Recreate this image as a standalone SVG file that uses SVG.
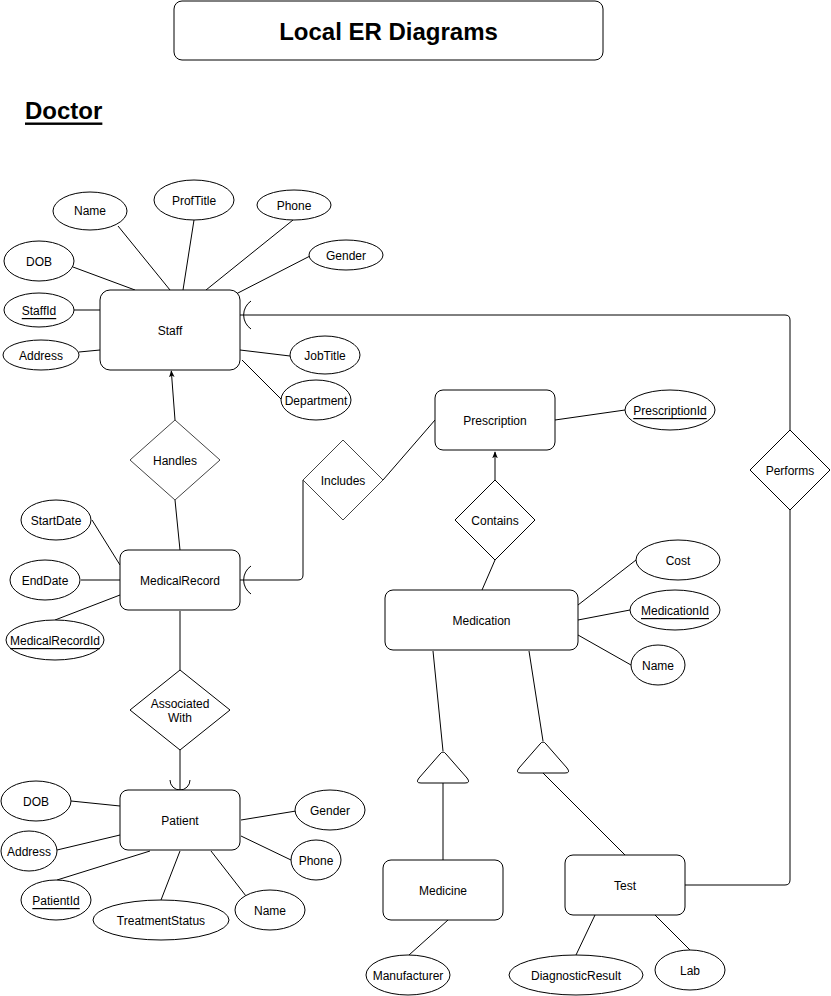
<svg xmlns="http://www.w3.org/2000/svg" width="831" height="996" viewBox="0 0 831 996">
<defs>
<style>
text{font-family:"Liberation Sans",Arial,sans-serif;font-size:12px;fill:#000;text-anchor:middle;dominant-baseline:central;transform:translateY(1px)}
.ent{fill:#fff;stroke:#000;stroke-width:1}
.attr{fill:#fff;stroke:#000;stroke-width:1}
.rel{fill:#fff;stroke:#000;stroke-width:1}
.rel2{fill:#fff;stroke:#444;stroke-width:1}
.ln{fill:none;stroke:#000;stroke-width:1}
.key{text-decoration:underline}
</style>
<marker id="arr" viewBox="0 0 10 10" refX="9" refY="5" markerWidth="7" markerHeight="7" orient="auto">
<path d="M0,1 L10,5 L0,9 L2.5,5 z" fill="#000"/>
</marker>
</defs>
<rect width="831" height="996" fill="#fff"/>

<g id="title">
<rect x="174" y="1" width="429" height="59" rx="8" class="ent"/>
<text x="388.5" y="30" style="font-size:24px;font-weight:bold">Local ER Diagrams</text>
</g>
<g id="doctor-heading">
<text x="25" y="109" style="font-size:24px;font-weight:bold;text-anchor:start;text-decoration:underline">Doctor</text>
</g>

<g id="connectors">
<!-- Staff attributes -->
<line class="ln" x1="118" y1="226" x2="170" y2="290"/>
<line class="ln" x1="194" y1="220" x2="183" y2="290"/>
<line class="ln" x1="293" y1="220" x2="206" y2="290"/>
<line class="ln" x1="310" y1="256" x2="236" y2="294"/>
<line class="ln" x1="73" y1="267" x2="135" y2="290"/>
<line class="ln" x1="74" y1="310" x2="100" y2="310"/>
<line class="ln" x1="79" y1="352" x2="100" y2="350"/>
<line class="ln" x1="240" y1="350" x2="290" y2="356"/>
<line class="ln" x1="242" y1="360" x2="281" y2="399"/>
<!-- Staff - Performs - Test -->
<path class="ln" d="M240,315 H785 Q790,315 790,320 V430"/>
<path class="ln" d="M251,301 A17,17 0 0 0 251,329"/>
<path class="ln" d="M790,510 V880 Q790,885 785,885 H685"/>
<!-- Handles -->
<line class="ln" x1="175" y1="420" x2="171.3" y2="371" marker-end="url(#arr)"/>
<line class="ln" x1="175" y1="500" x2="180" y2="550"/>
<!-- MedicalRecord attributes -->
<line class="ln" x1="92" y1="520" x2="120" y2="565"/>
<line class="ln" x1="81" y1="580" x2="120" y2="580"/>
<line class="ln" x1="55" y1="620" x2="120" y2="595"/>
<!-- MedicalRecord - Includes - Prescription -->
<path class="ln" d="M240,580 H298 Q303,580 303,575 V480"/>
<path class="ln" d="M251,566 A17,17 0 0 0 251,594"/>
<line class="ln" x1="383" y1="480" x2="435" y2="420"/>
<line class="ln" x1="555" y1="420" x2="625" y2="410"/>
<!-- Contains -->
<line class="ln" x1="495" y1="480" x2="495" y2="452" marker-end="url(#arr)"/>
<line class="ln" x1="495" y1="560" x2="482" y2="590"/>
<!-- Medication attributes -->
<line class="ln" x1="578" y1="605" x2="636" y2="560"/>
<line class="ln" x1="578" y1="620" x2="630" y2="610"/>
<line class="ln" x1="578" y1="635" x2="631" y2="665"/>
<!-- ISA -->
<line class="ln" x1="433" y1="651" x2="443" y2="751"/>
<line class="ln" x1="529" y1="651" x2="543" y2="741"/>
<line class="ln" x1="443" y1="783" x2="443" y2="860"/>
<line class="ln" x1="543" y1="773" x2="625" y2="855"/>
<line class="ln" x1="448" y1="920" x2="409" y2="955"/>
<line class="ln" x1="595" y1="915" x2="576" y2="955"/>
<line class="ln" x1="655" y1="915" x2="690" y2="950"/>
<!-- MedicalRecord - Associated With - Patient -->
<line class="ln" x1="180" y1="611" x2="180" y2="670"/>
<line class="ln" x1="180" y1="750" x2="180" y2="790"/>
<path class="ln" d="M170,780 A10,10 0 0 0 190,780"/>
<!-- Patient attributes -->
<line class="ln" x1="71" y1="801" x2="120" y2="806"/>
<line class="ln" x1="57" y1="850" x2="120" y2="835"/>
<line class="ln" x1="57" y1="880" x2="150" y2="851"/>
<line class="ln" x1="161" y1="900" x2="180" y2="851"/>
<line class="ln" x1="246" y1="896" x2="211" y2="851"/>
<line class="ln" x1="296" y1="811" x2="241" y2="820"/>
<line class="ln" x1="291" y1="860" x2="241" y2="836"/>
</g>

<g id="staff">
<rect x="100" y="290" width="140" height="80" rx="10" class="ent"/>
<text x="170" y="330">Staff</text>
</g>
<g id="staff-name"><ellipse cx="90" cy="211" rx="37" ry="19" class="attr"/><text x="90" y="210">Name</text></g>
<g id="staff-proftitle"><ellipse cx="194" cy="200" rx="40" ry="20" class="attr"/><text x="194" y="200">ProfTitle</text></g>
<g id="staff-phone"><ellipse cx="294" cy="205" rx="37" ry="15" class="attr"/><text x="294" y="205">Phone</text></g>
<g id="staff-gender"><ellipse cx="346" cy="255" rx="37" ry="15" class="attr"/><text x="346" y="255">Gender</text></g>
<g id="staff-dob"><ellipse cx="39" cy="261" rx="35" ry="20" class="attr"/><text x="39" y="261">DOB</text></g>
<g id="staff-staffid"><ellipse cx="39" cy="310" rx="35" ry="17" class="attr"/><text x="39" y="310" class="key">StaffId</text></g>
<g id="staff-address"><ellipse cx="41" cy="355" rx="38" ry="15" class="attr"/><text x="41" y="355">Address</text></g>
<g id="staff-jobtitle"><ellipse cx="325" cy="355" rx="35" ry="19" class="attr"/><text x="325" y="355">JobTitle</text></g>
<g id="staff-department"><ellipse cx="316" cy="400" rx="35" ry="20" class="attr"/><text x="316" y="400">Department</text></g>

<g id="performs">
<polygon points="790,430 830,470 790,510 750,470" class="rel"/>
<text x="790" y="470">Performs</text>
</g>

<g id="handles">
<polygon points="175,420 220,460 175,500 130,460" class="rel2"/>
<text x="175" y="460">Handles</text>
</g>

<g id="medicalrecord">
<rect x="120" y="550" width="120" height="60" rx="8" class="ent"/>
<text x="180" y="580">MedicalRecord</text>
</g>
<g id="mr-startdate"><ellipse cx="56" cy="520" rx="35" ry="20" class="attr"/><text x="56" y="520">StartDate</text></g>
<g id="mr-enddate"><ellipse cx="45" cy="580" rx="35" ry="20" class="attr"/><text x="45" y="580">EndDate</text></g>
<g id="mr-id"><ellipse cx="55" cy="640" rx="49" ry="20" class="attr"/><text x="55" y="640" class="key">MedicalRecordId</text></g>

<g id="includes">
<polygon points="343,440 383,480 343,520 303,480" class="rel2"/>
<text x="343" y="480">Includes</text>
</g>

<g id="prescription">
<rect x="435" y="390" width="120" height="60" rx="8" class="ent"/>
<text x="495" y="420">Prescription</text>
</g>
<g id="prescription-id"><ellipse cx="670" cy="410" rx="45" ry="20" class="attr"/><text x="670" y="410" class="key">PrescriptionId</text></g>

<g id="contains">
<polygon points="495,480 535,520 495,560 455,520" class="rel"/>
<text x="495" y="520">Contains</text>
</g>

<g id="medication">
<rect x="385" y="590" width="193" height="60" rx="8" class="ent"/>
<text x="481.5" y="620">Medication</text>
</g>
<g id="med-cost"><ellipse cx="678" cy="560" rx="42" ry="20" class="attr"/><text x="678" y="560">Cost</text></g>
<g id="med-id"><ellipse cx="675" cy="610" rx="45" ry="20" class="attr"/><text x="675" y="610" class="key">MedicationId</text></g>
<g id="med-name"><ellipse cx="658" cy="665" rx="27" ry="20" class="attr"/><text x="658" y="665">Name</text></g>

<g id="isa-medicine">
<path d="M440,754 Q443,750 446,754 L467,778 Q471,783 465,783 L421,783 Q415,783 419,778 Z" class="attr"/>
</g>
<g id="isa-test">
<path d="M540,744 Q543,740 546,744 L567,768 Q571,773 565,773 L521,773 Q515,773 519,768 Z" class="attr"/>
</g>

<g id="medicine">
<rect x="383" y="860" width="120" height="60" rx="8" class="ent"/>
<text x="443" y="890">Medicine</text>
</g>
<g id="medicine-manufacturer"><ellipse cx="408" cy="975" rx="42" ry="20" class="attr"/><text x="408" y="975">Manufacturer</text></g>

<g id="test">
<rect x="565" y="855" width="120" height="60" rx="8" class="ent"/>
<text x="625" y="885">Test</text>
</g>
<g id="test-diagnosticresult"><ellipse cx="576" cy="975" rx="67" ry="20" class="attr"/><text x="576" y="975">DiagnosticResult</text></g>
<g id="test-lab"><ellipse cx="690" cy="970" rx="35" ry="20" class="attr"/><text x="690" y="970">Lab</text></g>

<g id="associatedwith">
<polygon points="180,670 230,710 180,750 130,710" class="rel"/>
<text x="180" y="703">Associated</text>
<text x="180" y="717">With</text>
</g>

<g id="patient">
<rect x="120" y="790" width="120" height="60" rx="8" class="ent"/>
<text x="180" y="820">Patient</text>
</g>
<g id="patient-dob"><ellipse cx="36" cy="801" rx="35" ry="20" class="attr"/><text x="36" y="801">DOB</text></g>
<g id="patient-address"><ellipse cx="29" cy="851" rx="28" ry="20" class="attr"/><text x="29" y="851">Address</text></g>
<g id="patient-id"><ellipse cx="56" cy="900" rx="35" ry="20" class="attr"/><text x="56" y="900" class="key">PatientId</text></g>
<g id="patient-treatmentstatus"><ellipse cx="161" cy="920" rx="68" ry="20" class="attr"/><text x="161" y="920">TreatmentStatus</text></g>
<g id="patient-name"><ellipse cx="270" cy="910" rx="35" ry="20" class="attr"/><text x="270" y="910">Name</text></g>
<g id="patient-gender"><ellipse cx="330" cy="810" rx="35" ry="20" class="attr"/><text x="330" y="810">Gender</text></g>
<g id="patient-phone"><ellipse cx="316" cy="860" rx="25" ry="20" class="attr"/><text x="316" y="860">Phone</text></g>
</svg>
